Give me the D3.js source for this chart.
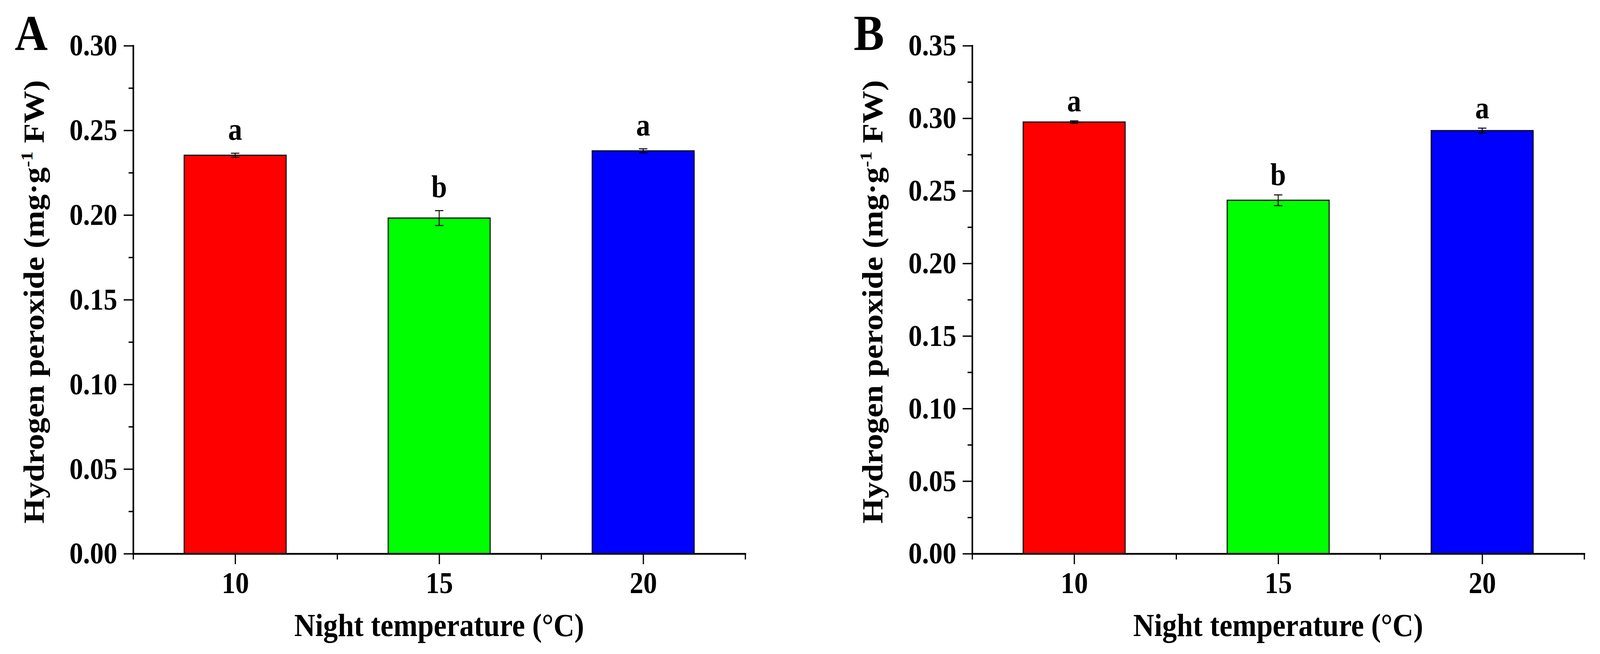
<!DOCTYPE html>
<html lang="en">

<head>
    <title>Hydrogen peroxide vs night temperature</title>
    <style>
        html,
        body {
            margin: 0;
            padding: 0;
            width: 100%;
            height: 100%;
            overflow: hidden;
            background: #fff;
        }

        svg {
            display: block;
        }

        text {
            font-family: "Liberation Serif", "Times New Roman", serif;
            font-weight: bold;
            fill: #000;
        }
    </style>
    <script src="https://cdn.jsdelivr.net/npm/d3@7"></script>
</head>

<body>
    <script>
        // data
        const categories = ["10", "15", "20"];
        const barColors = ["#ff0000", "#00ff00", "#0000ff"];

        const meansA = [0.2353, 0.1982, 0.2379];
        const errorsA = [0.0012, 0.0044, 0.0012];
        const lettersA = ["a", "b", "a"];
        const yTicksA = [0, 0.05, 0.10, 0.15, 0.20, 0.25, 0.30];

        const meansB = [0.2974, 0.2435, 0.2915];
        const errorsB = [0.0008, 0.0037, 0.0017];
        const lettersB = ["a", "b", "a"];
        const yTicksB = [0, 0.05, 0.10, 0.15, 0.20, 0.25, 0.30, 0.35];

        // drawn in the reference's own pixel space, fitted to the window
        const W = 4554, H = 1675
        const svg = d3.select("body").append("svg")
            .attr("width", "100vw")
            .attr("height", "100vh")
            .attr("viewBox", `0 0 ${W} ${H}`)
            .attr("preserveAspectRatio", "none")

        svg.append("rect").attr("width", W).attr("height", H).attr("fill", "#fff")

        function drawPanel(ox, tag, means, errors, letters, yTicks, letterGap) {
            const yMax = yTicks[yTicks.length - 1]
            const x = d3.scaleLinear().domain([0.5, 3.5]).range([ox, ox + 1742])
            const y = d3.scaleLinear().domain([0, yMax]).range([1418, 117])
            const g = svg.append("g")

            // bars
            g.selectAll(".bar")
                .data(means)
                .join("rect")
                .attr("class", "bar")
                .attr("x", (d, i) => x(i + 0.75))
                .attr("width", x(1.25) - x(0.75))
                .attr("y", d => y(d))
                .attr("height", d => y(0) - y(d))
                .attr("fill", (d, i) => barColors[i])
                .attr("stroke", "#111")
                .attr("stroke-width", 3)

            // error bars
            const eb = g.selectAll(".err")
                .data(means)
                .join("g")
                .attr("class", "err")
                .attr("stroke", "#000")
                .attr("stroke-width", 2.5)
            eb.append("line")
                .attr("x1", (d, i) => x(i + 1)).attr("x2", (d, i) => x(i + 1))
                .attr("y1", (d, i) => y(d - errors[i])).attr("y2", (d, i) => y(d + errors[i]))
            eb.append("line")
                .attr("x1", (d, i) => x(i + 1) - 12).attr("x2", (d, i) => x(i + 1) + 12)
                .attr("y1", (d, i) => y(d + errors[i])).attr("y2", (d, i) => y(d + errors[i]))
            eb.append("line")
                .attr("x1", (d, i) => x(i + 1) - 12).attr("x2", (d, i) => x(i + 1) + 12)
                .attr("y1", (d, i) => y(d - errors[i])).attr("y2", (d, i) => y(d - errors[i]))

            // significance letters
            g.selectAll(".sig")
                .data(letters)
                .join("text")
                .attr("class", "sig")
                .attr("text-anchor", "middle")
                .attr("font-size", 80)
                .attr("x", (d, i) => x(i + 1))
                .attr("y", (d, i) => y(means[i] + errors[i]) - letterGap)
                .text(d => d)

            // minor ticks
            const minorY = yTicks.slice(1).map(t => t - 0.025)
            g.append("g")
                .attr("transform", `translate(${ox},0)`)
                .call(d3.axisLeft(y).tickValues(minorY).tickSize(13).tickFormat(""))
                .call(s => s.select(".domain").remove())
                .selectAll("line").attr("stroke-width", 3.5)

            g.append("g")
                .attr("transform", "translate(0,1418)")
                .call(d3.axisBottom(x).tickValues([0.5, 1.5, 2.5, 3.5]).tickSize(15).tickFormat(""))
                .call(s => s.select(".domain").remove())
                .selectAll("line").attr("stroke-width", 3.5)

            // y axis
            const ya = g.append("g")
                .attr("transform", `translate(${ox},0)`)
                .call(d3.axisLeft(y).tickValues(yTicks).tickFormat(d3.format(".2f"))
                    .tickSize(27).tickSizeOuter(0).tickPadding(18))
                .attr("font-size", 78)
                .attr("font-family", null)
            ya.select(".domain").attr("stroke-width", 4.5).attr("stroke-linecap", "square")
            ya.selectAll(".tick line").attr("stroke-width", 3.5)

            // x axis
            const xa = g.append("g")
                .attr("transform", "translate(0,1418)")
                .call(d3.axisBottom(x).tickValues([1, 2, 3]).tickFormat((d, i) => categories[i])
                    .tickSize(27).tickSizeOuter(0).tickPadding(19))
                .attr("font-size", 78)
                .attr("font-family", null)
            xa.select(".domain").attr("stroke-width", 4.5).attr("stroke-linecap", "square")
            xa.selectAll(".tick line").attr("stroke-width", 3.5)

            // axis titles
            g.append("text")
                .attr("x", ox + 871)
                .attr("y", 1629)
                .attr("text-anchor", "middle")
                .attr("font-size", 82)
                .attr("textLength", 825)
                .attr("lengthAdjust", "spacingAndGlyphs")
                .text("Night temperature (°C)")

            const yt = g.append("text")
                .attr("transform", `translate(${ox - 255},773) rotate(-90)`)
                .attr("text-anchor", "middle")
                .attr("font-size", 82)
                .attr("textLength", 1136)
                .attr("lengthAdjust", "spacingAndGlyphs")
            yt.append("tspan").text("Hydrogen peroxide (mg·g")
            yt.append("tspan").attr("font-size", 48).attr("dy", -32).text("-1")
            yt.append("tspan").attr("dy", 32).text(" FW)")

            // panel tag
            g.append("text")
                .attr("x", ox - 337)
                .attr("y", 128)
                .attr("font-size", 130)
                .text(tag)
        }

        drawPanel(379, "A", meansA, errorsA, lettersA, yTicksA, 34)
        drawPanel(2767, "B", meansB, errorsB, lettersB, yTicksB, 25)
    </script>
</body>

</html>
